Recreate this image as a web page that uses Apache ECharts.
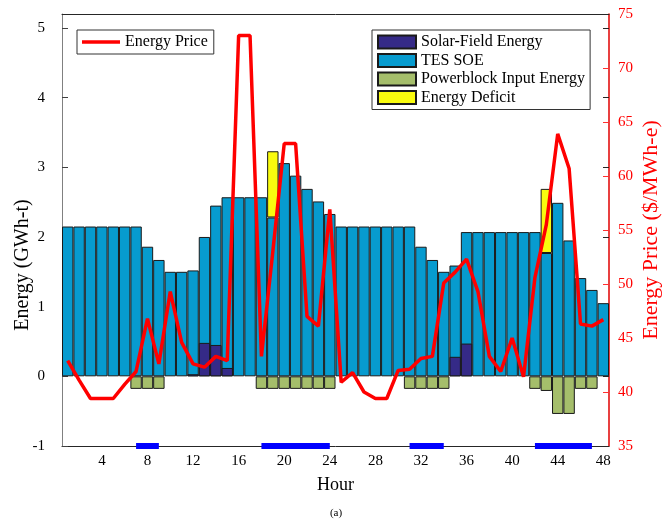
<!DOCTYPE html>
<html>
<head>
<meta charset="utf-8">
<script src="https://cdn.jsdelivr.net/npm/echarts@6/dist/echarts.min.js"></script>
<style>html,body{margin:0;padding:0;background:#fff}#c{width:672px;height:522px}</style>
</head>
<body>
<div id="c"></div>
<script>
// ---- data ----
const hours = ['1','2','3','4','5','6','7','8','9','10','11','12','13','14','15','16','17','18','19','20','21','22','23','24',
               '25','26','27','28','29','30','31','32','33','34','35','36','37','38','39','40','41','42','43','44','45','46','47','48'];
const solarField = [null,null,null,null,null,null,null,null,null,null,null,0.03,0.48,0.45,0.12,null,null,null,null,null,null,null,null,null,
                    null,null,null,null,null,null,null,null,null,null,0.28,0.47,null,null,null,null,null,null,null,null,null,null,null,null];
const tesSOE = [2.15,2.15,2.15,2.15,2.15,2.15,2.15,1.86,1.67,1.50,1.50,1.52,2.00,2.45,2.57,2.57,2.57,2.57,2.28,3.06,2.88,2.69,2.51,2.33,
                2.15,2.15,2.15,2.15,2.15,2.15,2.15,1.86,1.67,1.50,1.59,2.07,2.07,2.07,2.07,2.07,2.07,2.07,1.77,2.49,1.95,1.41,1.24,1.05];
const powerblock = [null,null,null,null,null,null,-0.18,-0.18,-0.18,null,null,null,null,null,null,null,null,-0.18,-0.18,-0.18,-0.18,-0.18,-0.18,-0.18,
                    null,null,null,null,null,null,-0.18,-0.18,-0.18,-0.18,null,null,null,null,null,null,null,-0.18,-0.21,-0.54,-0.54,-0.18,-0.18,null];
const deficit = [null,null,null,null,null,null,null,null,null,null,null,null,null,null,null,null,null,null,0.95,null,null,null,null,null,
                 null,null,null,null,null,null,null,null,null,null,null,null,null,null,null,null,null,null,0.92,null,null,null,null,null];
const price = [42.9,41.1,39.4,39.4,39.4,40.7,41.9,46.8,42.6,49.3,44.6,42.6,42.3,43.3,42.9,73.0,73.0,43.3,53.0,63.0,63.0,47.0,46.1,56.9,
               40.9,41.8,40.0,39.4,39.4,42.0,42.1,43.1,43.3,50.1,51.1,52.3,49.3,43.3,41.9,45.0,41.4,50.6,55.5,63.9,60.7,46.3,46.1,46.7];
const dischargePeriods = [[7,9],[18,24],[31,34],[42,47]];
const leftTicks = {min:-1, max:5.2, interval:1};
const rightTicks = {min:35, max:75, interval:5};

// marker line built from discharge periods (placed at the bottom of the left axis)
const markerLine = hours.map(h => {
  const v = Number(h);
  return dischargePeriods.some(p => v >= p[0] && v <= p[1]) ? leftTicks.min : null;
});

const FONT = 'Liberation Serif';
const tickIdx = (i) => (i + 1) % 4 === 0;

const chart = echarts.init(document.getElementById('c'), null, {renderer:'canvas'});
const barBase = {type:'bar', barWidth:'100%', barGap:'-100%', xAxisIndex:0, yAxisIndex:0};
chart.setOption({
  animation:false,
  textStyle:{fontFamily:FONT},
  title:{text:'(a)', left:'center', top:503, textStyle:{fontFamily:FONT, fontSize:11, fontWeight:'normal', color:'#000'}},
  grid:{left:62, right:63, top:14, bottom:76, containLabel:false, outerBoundsMode:'none'},
  legend:[
    {data:[{name:'Energy Price', icon:'rect'}], left:77, top:30, itemWidth:38, itemHeight:3.5, padding:[4,6,4,5],
     borderColor:'#333', borderWidth:1, backgroundColor:'#fff', selectedMode:false,
     textStyle:{fontFamily:FONT, fontSize:16, color:'#000', lineHeight:16}},
    {data:['Solar-Field Energy','TES SOE','Powerblock Input Energy','Energy Deficit'], orient:'vertical',
     left:372, top:30, itemWidth:38, itemHeight:13, itemGap:2.5, padding:[4,5,4,5], icon:'rect',
     borderColor:'#333', borderWidth:1, backgroundColor:'#fff', selectedMode:false,
     textStyle:{fontFamily:FONT, fontSize:16, color:'#000', lineHeight:16}}
  ],
  xAxis:[
    {type:'category', data:hours, position:'bottom', boundaryGap:true,
     name:'Hour', nameLocation:'middle', nameGap:30, nameMoveOverlap:false,
     nameTextStyle:{fontFamily:FONT, fontSize:18, color:'#000'},
     axisLine:{onZero:false, lineStyle:{color:'#262626', width:1}},
     axisTick:{inside:true, length:5, alignWithLabel:true, interval:tickIdx, lineStyle:{color:'#262626'}},
     axisLabel:{interval:tickIdx, margin:8, fontFamily:FONT, fontSize:15, color:'#000'}},
    {type:'category', data:hours, position:'top', boundaryGap:true,
     axisLine:{onZero:false, lineStyle:{color:'#262626', width:1}},
     axisTick:{inside:true, length:5, alignWithLabel:true, interval:tickIdx, lineStyle:{color:'#262626'}},
     axisLabel:{show:false}}
  ],
  yAxis:[
    {type:'value', position:'left', min:leftTicks.min, max:leftTicks.max, interval:leftTicks.interval,
     name:'Energy (GWh-t)', nameLocation:'middle', nameGap:29, nameMoveOverlap:false,
     nameTextStyle:{fontFamily:FONT, fontSize:20, color:'#000', padding:[0,70,0,0]},
     axisLine:{show:true, lineStyle:{color:'#808080', width:1}},
     axisTick:{show:true, inside:true, length:6, lineStyle:{color:'#404040'}},
     axisLabel:{margin:17, fontFamily:FONT, fontSize:15, color:'#000', showMaxLabel:false},
     splitLine:{show:false}},
    {type:'value', position:'right', min:rightTicks.min, max:rightTicks.max, interval:rightTicks.interval,
     name:'Energy Price ($/MWh-e)', nameLocation:'middle', nameGap:31, nameMoveOverlap:false,
     nameTextStyle:{fontFamily:FONT, fontSize:22, color:'#ff0000'},
     axisLine:{show:true, lineStyle:{color:'#e00000', width:1.5}},
     axisTick:{show:true, inside:true, length:6, lineStyle:{color:'#ff3030'}},
     axisLabel:{margin:9, fontFamily:FONT, fontSize:15, color:'#ff0000'},
     splitLine:{show:false}},
    {type:'value', position:'right', min:leftTicks.min, max:leftTicks.max, interval:leftTicks.interval,
     axisLine:{show:false}, axisLabel:{show:false}, splitLine:{show:false},
     axisTick:{show:true, inside:true, length:6, lineStyle:{color:'#262626'}}}
  ],
  series:[
    Object.assign({}, barBase, {name:'TES SOE', stack:'pos', data:tesSOE, z:2,
      itemStyle:{color:'#079bcf', borderColor:'#1a1a1a', borderWidth:1}}),
    Object.assign({}, barBase, {name:'Energy Deficit', stack:'pos', data:deficit, z:2,
      itemStyle:{color:'#f9fb0e', borderColor:'#1a1a1a', borderWidth:1}}),
    Object.assign({}, barBase, {name:'Solar-Field Energy', stack:'sol', data:solarField, z:2,
      itemStyle:{color:'#352a87', borderColor:'#1a1a1a', borderWidth:1}}),
    Object.assign({}, barBase, {name:'Powerblock Input Energy', stack:'neg', data:powerblock, z:2,
      itemStyle:{color:'#a5be6b', borderColor:'#1a1a1a', borderWidth:1}}),
    {name:'Energy Price', type:'line', xAxisIndex:0, yAxisIndex:1, data:price, symbol:'none', showSymbol:false, z:4,
     lineStyle:{color:'#ff0000', width:3.5}, itemStyle:{color:'#ff0000'}},
    {name:'Discharge', type:'line', xAxisIndex:0, yAxisIndex:0, data:markerLine, symbol:'none', z:5,
     clip:false, connectNulls:false, lineStyle:{color:'#0000ff', width:6, cap:'butt'}, itemStyle:{color:'#0000ff'}}
  ]
});
</script>
</body>
</html>
